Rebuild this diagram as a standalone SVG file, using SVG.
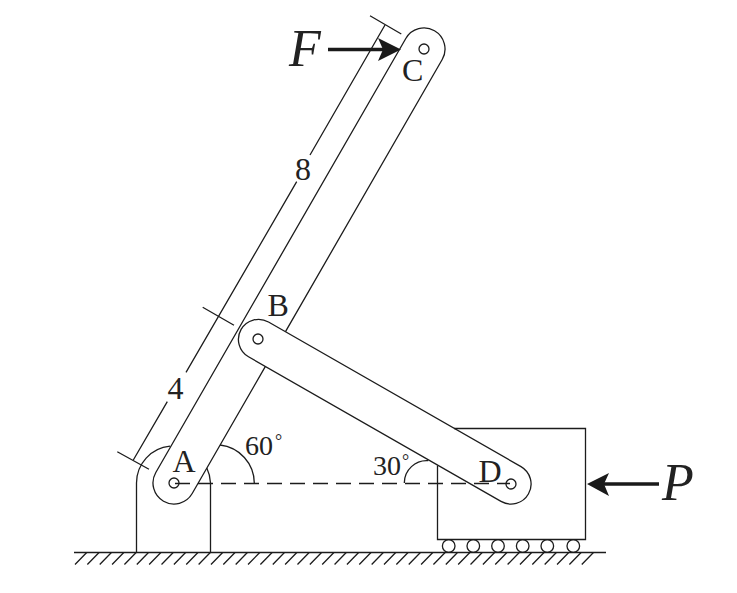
<svg xmlns="http://www.w3.org/2000/svg" width="737" height="593" viewBox="0 0 737 593">
<style>
.l{fill:none;stroke:#1c1c1c;stroke-width:1.3;stroke-linecap:butt}
.h{fill:#1a1a1a;stroke:none}
.a{fill:none;stroke:#1a1a1a;stroke-width:3.4}
text{font-family:"Liberation Serif","Times New Roman",serif;fill:#222;font-size:32px}
.i{font-style:italic;font-size:52px}
.n{font-size:28px}
.d{font-size:18px}
</style>
<rect width="737" height="593" fill="#fff"/>
<g id="ground"><path class="l" d="M74 552.5H606"/>
<path class="l" d="M86.7 552.5l-11.7 12m24.06-12l-11.7 12m24.06-12l-11.7 12m24.06-12l-11.7 12m24.06-12l-11.7 12m24.06-12l-11.7 12m24.06-12l-11.7 12m24.06-12l-11.7 12m24.06-12l-11.7 12m24.06-12l-11.7 12m24.06-12l-11.7 12m24.06-12l-11.7 12m24.06-12l-11.7 12m24.06-12l-11.7 12m24.06-12l-11.7 12m24.06-12l-11.7 12m24.06-12l-11.7 12m24.06-12l-11.7 12m24.06-12l-11.7 12m24.06-12l-11.7 12m24.06-12l-11.7 12m24.06-12l-11.7 12m24.06-12l-11.7 12m24.06-12l-11.7 12m24.06-12l-11.7 12m24.06-12l-11.7 12m24.06-12l-11.7 12m24.06-12l-11.7 12m24.06-12l-11.7 12m24.06-12l-11.7 12m24.06-12l-11.7 12m24.06-12l-11.7 12m24.06-12l-11.7 12m24.06-12l-11.7 12m24.06-12l-11.7 12m24.06-12l-11.7 12m24.06-12l-11.7 12m24.06-12l-11.7 12m24.06-12l-11.7 12m24.06-12l-11.7 12m24.06-12l-11.7 12m24.06-12l-11.7 12"/></g>
<g id="support"><path class="l" d="M136.5 552V483A37 37 0 0 1 170 446.2M206.8 468A37 37 0 0 1 210.5 483V552"/></g>
<g id="block"><path class="l" d="M454 428.5H585.5V539.5H437.5V465.5"/>
<circle class="l" cx="448.7" cy="546" r="6.3"/><circle class="l" cx="473.3" cy="546" r="6.3"/><circle class="l" cx="498" cy="546" r="6.3"/><circle class="l" cx="522.7" cy="546" r="6.3"/><circle class="l" cx="547.3" cy="546" r="6.3"/><circle class="l" cx="573.3" cy="546" r="6.3"/></g>
<g id="connectors">
<path class="l" d="M175 483.5H510" stroke-dasharray="15 8"/>
<path class="l" d="M220 445A38.6 38.6 0 0 1 254.3 483M404.3 483A22.4 22.4 0 0 1 428.3 460.7"/>
<path class="l" d="M133.3 460L167.3 401.7M186 372.3L296.7 181.7M310 155L385 25"/>
<path class="l" d="M117.3 451.7L149 469.3M202.7 307.3L234 325.3M370 15.7L401.3 34"/>
<path class="a" d="M328 49.5H385"/><path class="h" d="M401 49.5L378 38L383 49.5L378 61Z"/>
<path class="a" d="M659 484H604"/><path class="h" d="M587 484L609 473L604 484L609 496Z"/>
</g>
<g id="link-AC"><path class="l" d="M265.4 366.4L192.2 493.5A21 21 0 0 1 155.8 472.5L405.8 38.5A21 21 0 0 1 442.2 59.5L285.5 331.6"/>
<circle class="l" cx="174" cy="483" r="5"/><circle class="l" cx="424" cy="49" r="5"/></g>
<g id="link-BD"><path class="l" d="M268.5 322L521 466.6A20 20 0 0 1 501 501.4L248.5 356.8A20 20 0 0 1 268.5 322Z"/>
<circle class="l" cx="258" cy="339" r="5"/><circle class="l" cx="511" cy="484" r="5"/></g>
<g id="labels">
<text x="172.5" y="472">A</text><text x="267.5" y="316">B</text><text x="402" y="81">C</text><text x="478.5" y="481.5">D</text>
<text x="295" y="180">8</text><text x="167.5" y="399">4</text>
<text class="n" x="245" y="455">60</text><text class="d" x="275" y="447">°</text>
<text class="n" x="373" y="475">30</text><text class="d" x="402" y="467">°</text>
<text class="i" x="289" y="66">F</text><text class="i" x="662" y="500">P</text>
</g>
</svg>
